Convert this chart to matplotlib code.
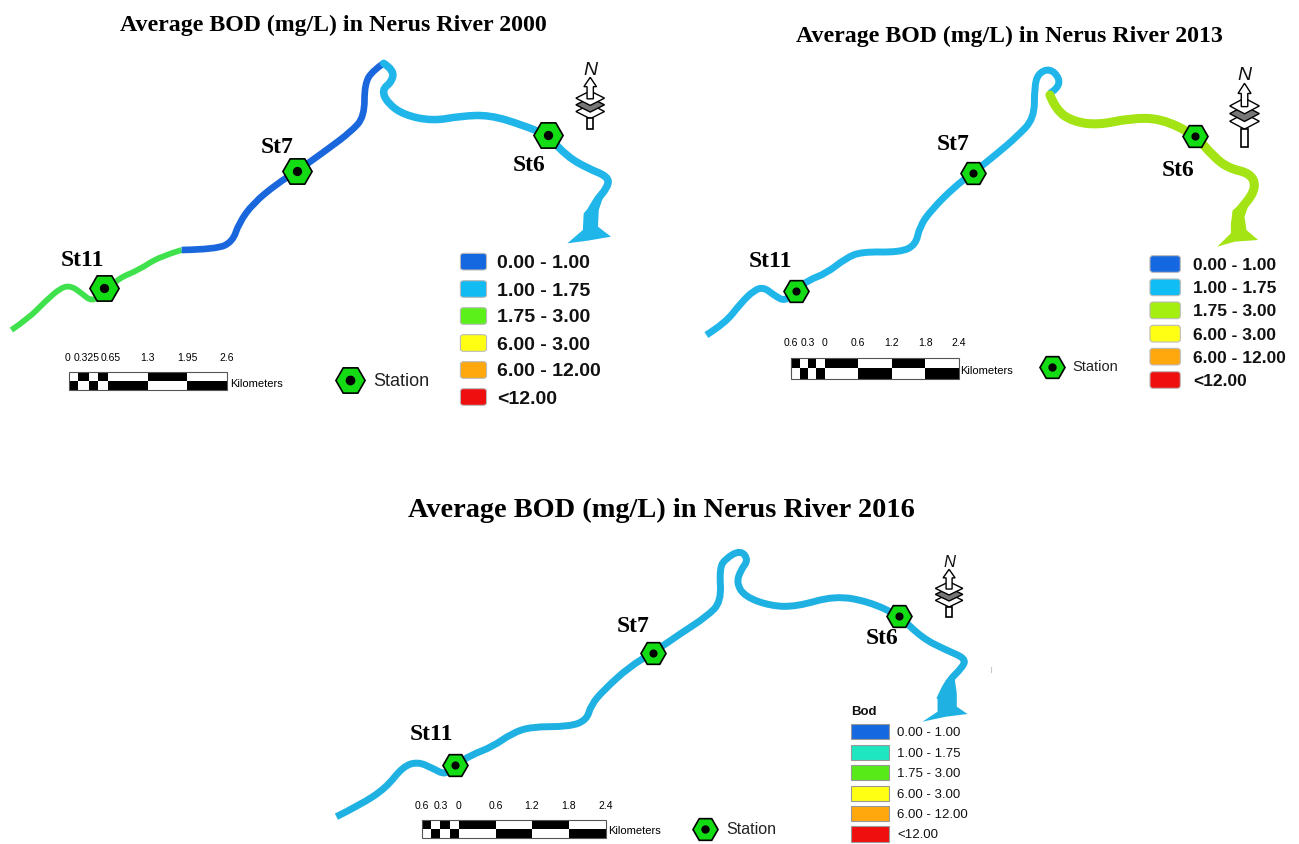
import matplotlib
matplotlib.use('Agg')
import matplotlib.pyplot as plt
from matplotlib.patches import FancyBboxPatch, PathPatch, Polygon, Rectangle
from matplotlib.path import Path

SANS = 'Liberation Sans'
SERIF = 'Liberation Serif'
W, H = 1299, 844

DARK = '#1a66dc'
LIGHT = '#20b6ea'
GREEN = '#3fe24c'
LIME = '#a4e414'
RIVER3 = '#1fb1e2'
HEX_GREEN = '#14dc14'

titles = ['Average BOD (mg/L) in Nerus River 2000',
          'Average BOD (mg/L) in Nerus River 2013',
          'Average BOD (mg/L) in Nerus River 2016']
classes = ['0.00 - 1.00', '1.00 - 1.75', '1.75 - 3.00', '6.00 - 3.00', '6.00 - 12.00', '<12.00']
colors_a = ['#1668e0', '#12bcf2', '#5cf01a', '#ffff14', '#ffa80e', '#f00f0f']
colors_b = ['#1668e0', '#10bdf4', '#a4ee10', '#ffff14', '#ffa80e', '#f00f0f']
colors_c = ['#1668e0', '#1ee6c0', '#58ea18', '#ffff14', '#ffa80e', '#f00f0f']

# river courses, in units of each panel's crop
p1_green_x = [28, 70, 110, 150, 175, 200, 225, 255, 290, 340, 390, 445]
p1_green_y = [870, 835, 785, 742, 738, 760, 785, 760, 715, 690, 650, 630]
p1_blue_x = [445, 530, 570, 585, 620, 680, 728, 800, 860, 893, 893, 915, 940]
p1_blue_y = [630, 628, 605, 550, 490, 430, 393, 330, 275, 230, 130, 90, 70]
p1_light_x = [940, 965, 960, 935, 950, 990, 1060, 1130, 1200, 1280, 1340, 1390, 1440, 1490, 1490, 1455, 1445]
p1_light_y = [70, 90, 125, 150, 190, 225, 243, 228, 225, 255, 285, 350, 385, 410, 440, 490, 520]
p1_mouth_x = [1452, 1430, 1428, 1390, 1440, 1497, 1465, 1467, 1478]
p1_mouth_y = [490, 520, 570, 610, 602, 590, 560, 510, 470]

p2_blue_x = [42, 90, 130, 165, 190, 215, 245, 272, 305, 350, 400, 440, 540, 580, 590, 620, 680, 728, 790, 840, 885,
             885, 895, 925, 950, 945, 925]
p2_blue_y = [885, 850, 790, 750, 742, 765, 785, 750, 720, 700, 655, 635, 637, 615, 560, 510, 440, 398, 340, 290, 235,
             140, 100, 85, 115, 145, 160]
p2_lime_x = [925, 940, 985, 1050, 1130, 1210, 1298, 1345, 1385, 1440, 1455, 1430, 1405]
p2_lime_y = [165, 210, 245, 255, 235, 235, 285, 350, 385, 400, 440, 490, 520]
p2_mouth_x = [1395, 1390, 1390, 1355, 1400, 1460, 1430, 1425, 1440]
p2_mouth_y = [510, 550, 580, 620, 605, 600, 570, 530, 480]

p3_river_x = [15, 70, 130, 170, 205, 240, 270, 293, 330, 380, 425, 470, 560, 600, 610, 640, 700, 755, 820, 880, 915,
              910, 925, 960, 978, 960, 950, 970, 1030, 1090, 1180, 1260, 1330, 1385, 1440, 1485, 1480, 1440, 1425]
p3_river_y = [860, 825, 775, 710, 695, 715, 735, 705, 675, 650, 610, 590, 590, 570, 525, 480, 410, 368, 310, 260, 215,
              115, 85, 60, 90, 120, 160, 200, 228, 230, 197, 215, 257, 325, 360, 385, 410, 460, 510]
p3_mouth_x = [1430, 1420, 1420, 1385, 1440, 1490, 1465, 1465, 1460]
p3_mouth_y = [480, 510, 545, 575, 560, 552, 530, 490, 445]

# stations St11, St7, St6
p1_st_x, p1_st_y = [255, 728, 1343], [745, 393, 285]
p2_st_x, p2_st_y = [272, 728, 1298], [753, 398, 287]
p3_st_x, p3_st_y = [293, 755, 1330], [705, 368, 257]
st_names = ['St11', 'St7', 'St6']
p1_lab_x, p1_lab_y = [202, 680, 1295], [660, 322, 376]
p2_lab_x, p2_lab_y = [207, 675, 1255], [664, 315, 390]
p3_lab_x, p3_lab_y = [238, 708, 1290], [614, 288, 326]

# scale bars
p1_ticks = ['0', '0.325', '0.65', '1.3', '1.95', '2.6']
p1_tick_x = [166, 212, 271, 362, 458, 555]
p1_top = [0, 1, 0, 1, 0, 1, 0]
p1_edges = [168, 192, 217, 241, 265, 362, 458, 555]
p1_bot = [1, 0, 1, 0, 1, 0, 1]

p2_ticks = ['0.6', '0.3', '0', '0.6', '1.2', '1.8', '2.4']
p2_tick_x = [260, 303, 346, 432, 518, 604, 690]
p2_edges = [260, 282, 303, 325, 346, 432, 518, 604, 690]
p3_tick_x = [215, 258, 301, 387, 472, 558, 645]
p3_edges = [215, 237, 258, 280, 301, 387, 472, 558, 645]
p23_top = [1, 0, 1, 0, 1, 0, 1, 0]
p23_bot = [0, 1, 0, 1, 0, 1, 0, 1]


def panel_axes(fig, x0, x1, y0, y1, xmax, ymax):
    ax = fig.add_axes([x0 / W, 1 - y1 / H, (x1 - x0) / W, (y1 - y0) / H])
    ax.set_xlim(0, xmax)
    ax.set_ylim(ymax, 0)
    ax.axis('off')
    return ax


def draw_river(ax, xs, ys, color, lw, cap='butt'):
    # quadratic curves through the midpoints, so the course does not look like a polyline
    pts = list(zip(xs, ys))
    verts = [pts[0]]
    codes = [Path.MOVETO]
    for i in range(1, len(pts) - 1):
        mid = ((pts[i][0] + pts[i + 1][0]) / 2, (pts[i][1] + pts[i + 1][1]) / 2)
        if i == len(pts) - 2:
            mid = pts[-1]
        verts += [pts[i], mid]
        codes += [Path.CURVE3, Path.CURVE3]
    ax.add_patch(PathPatch(Path(verts, codes), fc='none', ec=color, lw=lw, capstyle=cap, joinstyle='round'))


def draw_stations(ax, xs, ys, size, lab_x, lab_y, lab_size):
    ax.plot(xs, ys, ls='none', marker='H', ms=size, mfc=HEX_GREEN, mec='black', mew=1.2, zorder=5)
    ax.plot(xs, ys, ls='none', marker='o', ms=size * 0.27, color='black', zorder=6)
    for name, x, y in zip(st_names, lab_x, lab_y):
        ax.text(x, y, name, family=SERIF, weight='bold', fontsize=lab_size, ha='center', va='center', clip_on=False)


def draw_scale(ax, edges, top, bot, y0, y1, ticks, tick_x, tick_y, tick_size, km_x, km_y, km_size):
    ym = (y0 + y1) / 2
    for i in range(len(edges) - 1):
        w = edges[i + 1] - edges[i]
        ax.add_patch(Rectangle((edges[i], y0), w, ym - y0, fc='black' if top[i] else 'white', ec='none'))
        ax.add_patch(Rectangle((edges[i], ym), w, y1 - ym, fc='black' if bot[i] else 'white', ec='none'))
    ax.add_patch(Rectangle((edges[0], y0), edges[-1] - edges[0], y1 - y0, fc='none', ec='#555555', lw=0.8))
    for t, x in zip(ticks, tick_x):
        ax.text(x, tick_y, t, family=SANS, fontsize=tick_size, ha='center', va='center', color='black')
    ax.text(km_x, km_y, 'Kilometers', family=SANS, fontsize=km_size, ha='left', va='center', color='black')


def draw_legend(ax, cols, x0, x1, ys, h, text_x, size, weight='bold', rounded=True):
    for c, lab, y in zip(cols, classes, ys):
        if rounded:
            ax.add_patch(FancyBboxPatch((x0, y - h / 2), x1 - x0, h, boxstyle='round,pad=0,rounding_size=8',
                                        fc=c, ec='#bbbbbb', lw=0.8, mutation_aspect=1))
        else:
            ax.add_patch(Rectangle((x0, y - h / 2), x1 - x0, h, fc=c, ec='#999999', lw=0.8))
        ax.text(text_x, y, lab, family=SANS, weight=weight, fontsize=size, ha='left', va='center_baseline',
                color='#111111')


def draw_north(ax, x, tip, n_y, hw, dy, stem, n_size):
    ax.text(x, n_y, 'N', family=SANS, style='italic', fontsize=n_size, ha='center', va='center', color='#111111')
    c0 = tip + 2.1 * hw * 0.85
    for k in [2, 1, 0]:
        c = c0 + k * dy
        ax.add_patch(Polygon([(x - hw, c), (x, c - hw * 0.62), (x + hw, c), (x, c + hw * 0.62)],
                             fc=['white', '#777777', 'white'][k], ec='black', lw=1.0, zorder=3))
    sw = hw * 0.22
    ax.add_patch(Polygon([(x, tip), (x + 2 * sw, tip + hw * 0.8), (x + sw, tip + hw * 0.8), (x + sw, c0 + 2),
                          (x - sw, c0 + 2), (x - sw, tip + hw * 0.8), (x - 2 * sw, tip + hw * 0.8)],
                         fc='white', ec='black', lw=1.0, zorder=4))
    ax.add_patch(Rectangle((x - sw, c0 + 2 * dy + hw * 0.6), 2 * sw, stem - (c0 + 2 * dy + hw * 0.6),
                           fc='white', ec='black', lw=1.2, zorder=3))


fig = plt.figure(figsize=(W / 100, H / 100), dpi=100, facecolor='white')

fig.text(333 / W, 1 - 25 / H, titles[0], family=SERIF, weight='bold', fontsize=17.2, ha='center', va='center')
fig.text(1009 / W, 1 - 36 / H, titles[1], family=SERIF, weight='bold', fontsize=17.2, ha='center', va='center')
fig.text(661 / W, 1 - 510 / H, titles[2], family=SERIF, weight='bold', fontsize=20.4, ha='center', va='center')

# 2000
ax1 = panel_axes(fig, 0, 640, 40, 420, 1568, 1140)
draw_river(ax1, p1_green_x, p1_green_y, GREEN, 4.2)
draw_river(ax1, p1_blue_x, p1_blue_y, DARK, 4.8)
draw_river(ax1, p1_light_x, p1_light_y, LIGHT, 5.4, cap='round')
ax1.add_patch(Polygon(list(zip(p1_mouth_x, p1_mouth_y)), fc=LIGHT, ec='none'))
draw_stations(ax1, p1_st_x, p1_st_y, 21, p1_lab_x, p1_lab_y, 17)
draw_scale(ax1, p1_edges, p1_top, p1_bot, 997, 1050, p1_ticks, p1_tick_x, 955, 7.5, 565, 1033, 8)
ax1.plot([857], [1020], marker='H', ms=21, mfc=HEX_GREEN, mec='black', mew=1.2)
ax1.plot([857], [1020], marker='o', ms=6, color='black')
ax1.text(915, 1025, 'Station', family=SANS, fontsize=13, ha='left', va='center', color='#222222')
draw_legend(ax1, colors_a, 1128, 1192, [665, 747, 828, 909, 990, 1071], 50, 1218, 14)
draw_north(ax1, 1446, 112, 92, 35, 20, 268, 14)

# 2013
ax2 = panel_axes(fig, 690, 1299, 40, 420, 1565, 1140)
draw_river(ax2, p2_blue_x, p2_blue_y, LIGHT, 5)
draw_river(ax2, p2_lime_x, p2_lime_y, LIME, 6.5, cap='round')
ax2.add_patch(Polygon(list(zip(p2_mouth_x, p2_mouth_y)), fc=LIME, ec='none'))
draw_stations(ax2, p2_st_x, p2_st_y, 18, p2_lab_x, p2_lab_y, 17)
draw_scale(ax2, p2_edges, p23_top, p23_bot, 953, 1016, p2_ticks, p2_tick_x, 908, 7.5, 695, 993, 8)
ax2.plot([931], [980], marker='H', ms=18, mfc=HEX_GREEN, mec='black', mew=1.2)
ax2.plot([931], [980], marker='o', ms=5, color='black')
ax2.text(982, 982, 'Station', family=SANS, fontsize=10.5, ha='left', va='center', color='#222222')
draw_legend(ax2, colors_b, 1182, 1260, [672, 742, 811, 881, 950, 1020], 50, 1293, 12.5)
draw_north(ax2, 1425, 130, 107, 38, 23, 320, 14)

# 2016
ax3 = panel_axes(fig, 330, 1000, 530, 844, 1566, 942)
draw_river(ax3, p3_river_x, p3_river_y, RIVER3, 5)
ax3.add_patch(Polygon(list(zip(p3_mouth_x, p3_mouth_y)), fc=RIVER3, ec='none'))
draw_stations(ax3, p3_st_x, p3_st_y, 18, p3_lab_x, p3_lab_y, 17)
draw_scale(ax3, p3_edges, p23_top, p23_bot, 870, 925, p2_ticks, p3_tick_x, 828, 7.5, 650, 903, 8)
ax3.plot([877], [897], marker='H', ms=18, mfc=HEX_GREEN, mec='black', mew=1.2)
ax3.plot([877], [897], marker='o', ms=5, color='black')
ax3.text(927, 899, 'Station', family=SANS, fontsize=11.5, ha='left', va='center', color='#222222')
ax3.text(1218, 545, 'Bod', family=SANS, weight='bold', fontsize=9.5, ha='left', va='center', color='#111111')
draw_legend(ax3, colors_c, 1218, 1307, [605, 667, 728, 790, 851, 912], 46, 1325, 9.5, weight='normal', rounded=False)
draw_north(ax3, 1447, 118, 97, 32, 18, 260, 12)
ax3.plot([1545, 1545], [412, 425], color='#c8c8c8', lw=0.8)

fig.savefig('out.png', dpi=100)
